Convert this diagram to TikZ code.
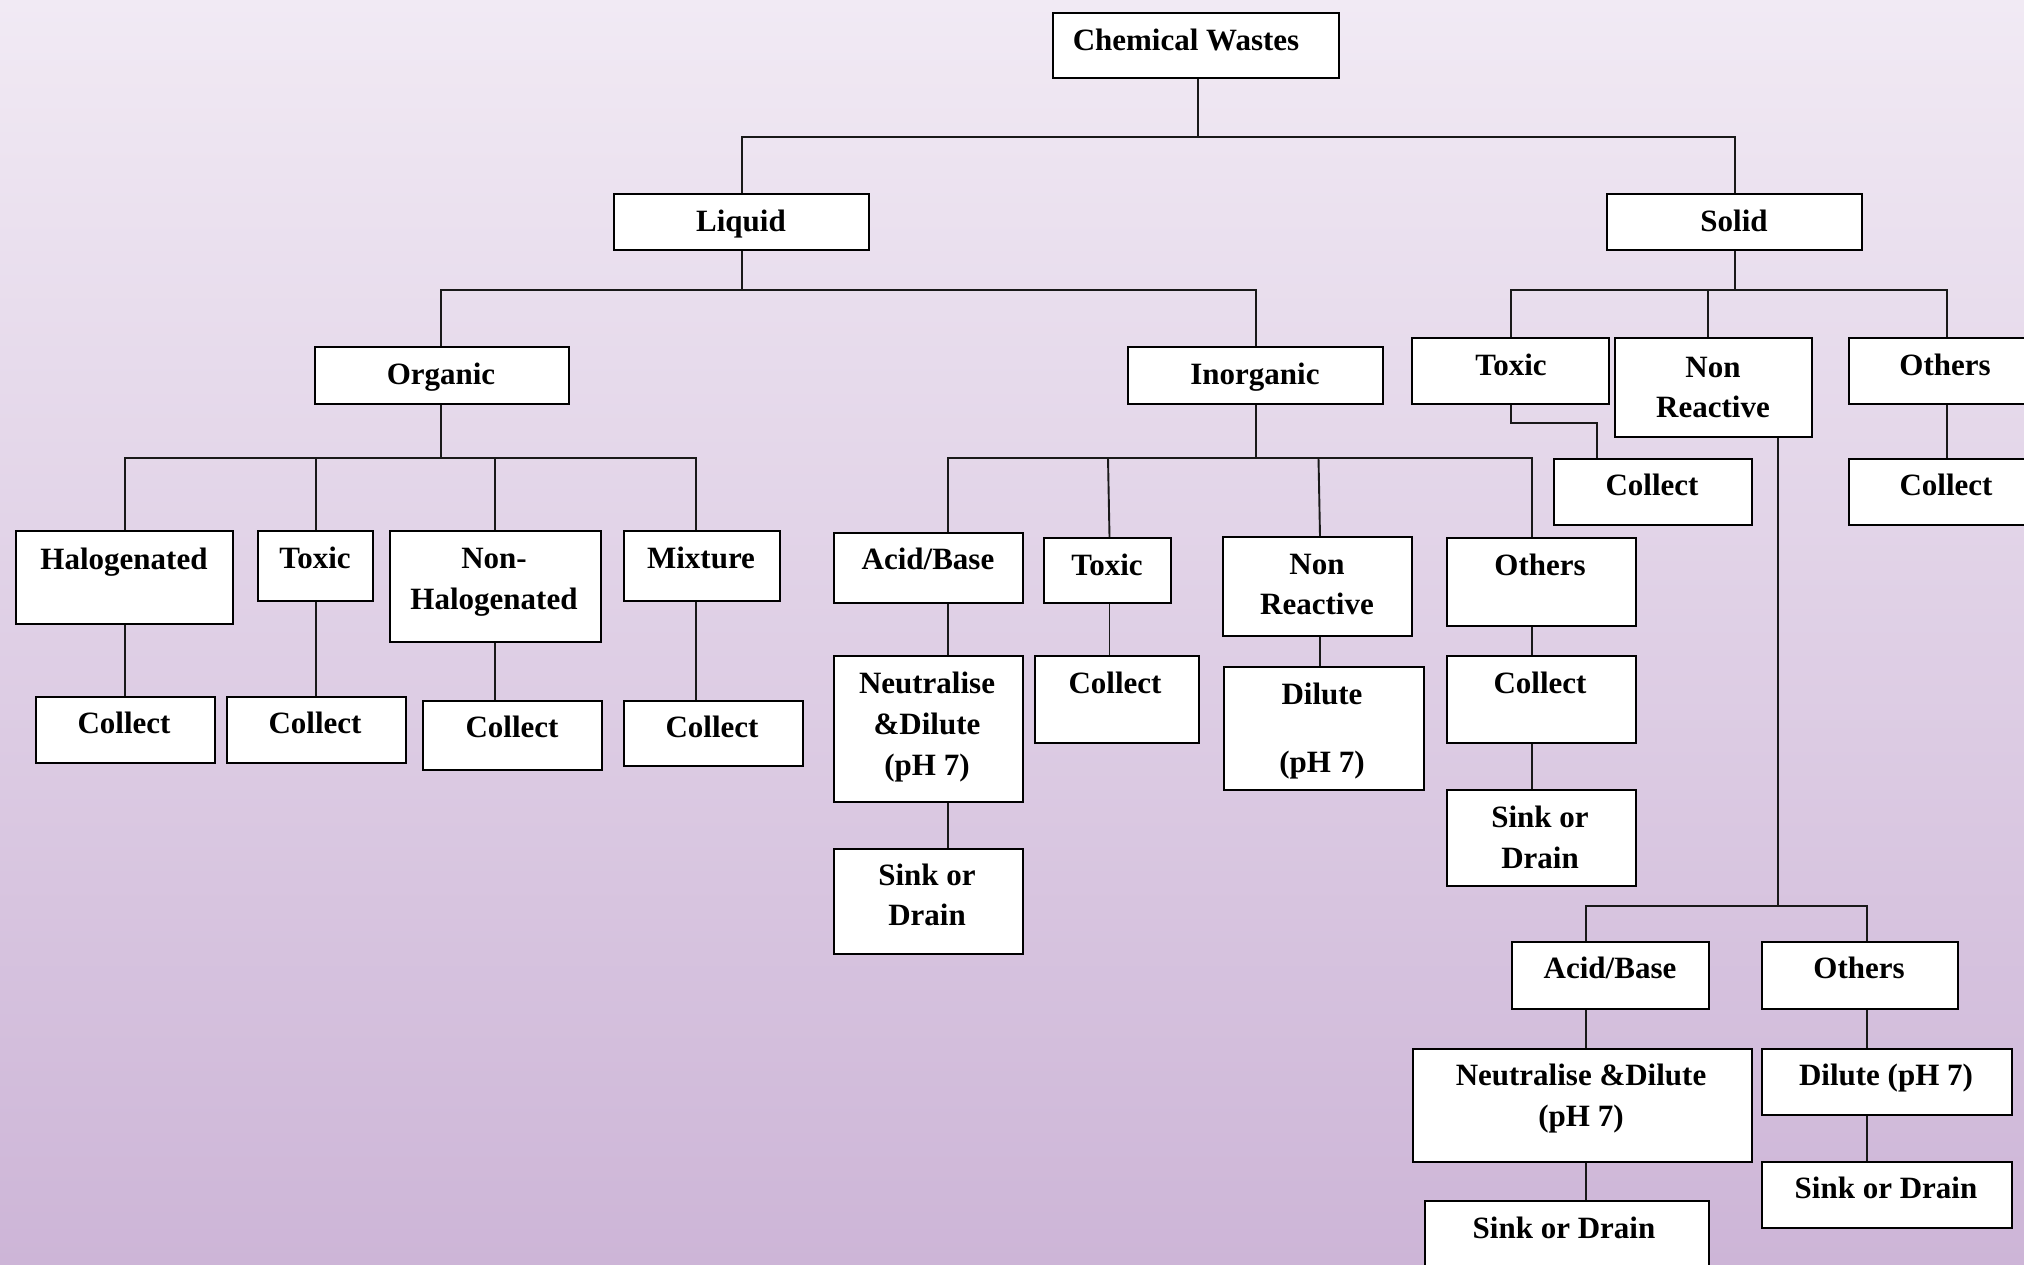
\documentclass[tikz,border=0pt]{standalone}
\usepackage{fontspec}
\setmainfont{Liberation Serif}
\definecolor{bgtop}{RGB}{241,234,244}
\definecolor{bgbot}{RGB}{205,181,215}
\definecolor{linec}{RGB}{25,25,25}
\tikzset{
  wbox/.style={draw=black, line width=2.2pt, fill=white, inner sep=0pt, rectangle},
  txt/.style={anchor=base, inner sep=0pt, font=\bfseries\fontsize{31}{40}\selectfont, text=black},
  conn/.style={draw=linec, line width=1.9pt}
}
\newcommand\bx[5]{\node[wbox, anchor=north west, minimum width={(#4-#2)*1pt}, minimum height={(#5-#3)*1pt}] (#1) at (#2,#3) {};}
\newcommand\tx[4]{\node[txt] (#1) at (#2,#3+10.5) {#4};}
\begin{document}
\begin{tikzpicture}[x=1pt,y=-1pt]
\useasboundingbox (0,0) rectangle (2024,1264);
\clip (0,0) rectangle (2024,1264);
\shade[top color=bgtop, bottom color=bgbot] (0,0) rectangle (2024,1264);

% ---------- boxes ----------
\bx{cw}{1052}{12}{1338}{77}
\bx{liq}{613}{193}{868}{249}
\bx{sol}{1606}{193}{1861}{249}
\bx{org}{314}{346}{568}{403}
\bx{inorg}{1127}{346}{1382}{403}
\bx{stox}{1411}{337}{1608}{403}
\bx{snr}{1614}{337}{1811}{436}
\bx{soth}{1848}{337}{2042}{403}
\bx{stoxc}{1553}{458}{1751}{524}
\bx{sothc}{1848}{458}{2042}{524}
\bx{hal}{15}{530}{232}{623}
\bx{otox}{257}{530}{372}{600}
\bx{nhal}{389}{530}{600}{641}
\bx{mix}{623}{530}{779}{600}
\bx{hc}{35}{696}{214}{762}
\bx{otc}{226}{696}{405}{762}
\bx{nhc}{422}{700}{601}{769}
\bx{mixc}{623}{700}{802}{765}
\bx{iab}{833}{532}{1022}{602}
\bx{neut}{833}{655}{1022}{801}
\bx{isink}{833}{848}{1022}{953}
\bx{itox}{1043}{537}{1170}{602}
\bx{itoxc}{1034}{655}{1198}{742}
\bx{inr}{1222}{536}{1411}{635}
\bx{dil}{1223}{666}{1423}{789}
\bx{ioth}{1446}{537}{1635}{625}
\bx{iothc}{1446}{655}{1635}{742}
\bx{iothsink}{1446}{789}{1635}{885}
\bx{sab}{1511}{941}{1708}{1008}
\bx{snoth}{1761}{941}{1957}{1008}
\bx{sneut}{1412}{1048}{1751}{1161}
\bx{sdil}{1761}{1048}{2011}{1114}
\bx{ssink}{1424}{1200}{1708}{1290}
\bx{sdsink}{1761}{1161}{2011}{1227}

% ---------- connectors ----------
\path[conn] (cw.south -| 1198,0) -- (1198,0 |- 0,137);
\path[conn] (742,0 |- liq.north) -- (742,137) -- (1735,137) -- (1735,0 |- sol.north);
% liquid
\path[conn] (742,0 |- liq.south) -- (742,290);
\path[conn] (441,0 |- org.north) -- (441,290) -- (1256,290) -- (1256,0 |- inorg.north);
% organic
\path[conn] (441,0 |- org.south) -- (441,458);
\path[conn] (125,0 |- hal.north) -- (125,458) -- (696,458) -- (696,0 |- mix.north);
\path[conn] (316,458) -- (316,0 |- otox.north);
\path[conn] (495,458) -- (495,0 |- nhal.north);
\path[conn] (125,0 |- hal.south) -- (125,0 |- hc.north);
\path[conn] (316,0 |- otox.south) -- (316,0 |- otc.north);
\path[conn] (495,0 |- nhal.south) -- (495,0 |- nhc.north);
\path[conn] (696,0 |- mix.south) -- (696,0 |- mixc.north);
% inorganic
\path[conn] (1256,0 |- inorg.south) -- (1256,458);
\path[conn] (948,0 |- iab.north) -- (948,458) -- (1532,458) -- (1532,0 |- ioth.north);
\path[conn] (1108,458) -- (1109.5,0 |- itox.north);
\path[conn] (1318.5,458) -- (1320,0 |- inr.north);
\path[conn] (948,0 |- iab.south) -- (948,0 |- neut.north);
\path[conn] (948,0 |- neut.south) -- (948,0 |- isink.north);
\path[conn] (1109.5,0 |- itox.south) -- (1109.5,0 |- itoxc.north);
\path[conn] (1320,0 |- inr.south) -- (1320,0 |- dil.north);
\path[conn] (1532,0 |- ioth.south) -- (1532,0 |- iothc.north);
\path[conn] (1532,0 |- iothc.south) -- (1532,0 |- iothsink.north);
% solid
\path[conn] (1735,0 |- sol.south) -- (1735,290);
\path[conn] (1511,0 |- stox.north) -- (1511,290) -- (1947,290) -- (1947,0 |- soth.north);
\path[conn] (1708,290) -- (1708,0 |- snr.north);
\path[conn] (1511,0 |- stox.south) -- (1511,423) -- (1597,423) -- (1597,0 |- stoxc.north);
\path[conn] (1947,0 |- soth.south) -- (1947,0 |- sothc.north);
\path[conn] (1778,0 |- snr.south) -- (1778,906);
\path[conn] (1586,0 |- sab.north) -- (1586,906) -- (1867,906) -- (1867,0 |- snoth.north);
\path[conn] (1586,0 |- sab.south) -- (1586,0 |- sneut.north);
\path[conn] (1586,0 |- sneut.south) -- (1586,0 |- ssink.north);
\path[conn] (1867,0 |- snoth.south) -- (1867,0 |- sdil.north);
\path[conn] (1867,0 |- sdil.south) -- (1867,0 |- sdsink.north);

% ---------- texts ----------
\tx{tcw}{1186}{40}{Chemical Wastes}
\tx{tliq}{741}{221}{Liquid}
\tx{tsol}{1734}{221}{Solid}
\tx{torg}{441}{374}{Organic}
\tx{tinorg}{1255}{374}{Inorganic}
\tx{tstox}{1511}{365}{Toxic}
\tx{tsnra}{1713}{367}{Non}
\tx{tsnrb}{1713}{407}{Reactive}
\tx{tsoth}{1945}{365}{Others}
\tx{tstoxc}{1652}{485}{Collect}
\tx{tsothc}{1946}{485}{Collect}
\tx{thal}{124}{559}{Halogenated}
\tx{totox}{315}{558}{Toxic}
\tx{tnhala}{494}{558}{Non-}
\tx{tnhalb}{494}{599}{Halogenated}
\tx{tmix}{701}{558}{Mixture}
\tx{thc}{124}{723}{Collect}
\tx{totc}{315}{723}{Collect}
\tx{tnhc}{512}{727}{Collect}
\tx{tmixc}{712}{727}{Collect}
\tx{tiab}{928}{559}{Acid/Base}
\tx{tneuta}{927}{683}{Neutralise}
\tx{tneutb}{927}{724}{\&Dilute}
\tx{tneutc}{927}{765}{(pH 7)}
\tx{tisinka}{927}{875}{Sink or}
\tx{tisinkb}{927}{915}{Drain}
\tx{titox}{1107}{565}{Toxic}
\tx{titoxc}{1115}{683}{Collect}
\tx{tinra}{1317}{564}{Non}
\tx{tinrb}{1317}{604}{Reactive}
\tx{tdila}{1322}{694}{Dilute}
\tx{tdilb}{1322}{762}{(pH 7)}
\tx{tioth}{1540}{565}{Others}
\tx{tiothc}{1540}{683}{Collect}
\tx{tiothsa}{1540}{817}{Sink or}
\tx{tiothsb}{1540}{858}{Drain}
\tx{tsab}{1610}{968}{Acid/Base}
\tx{tsnoth}{1859}{968}{Others}
\tx{tsneuta}{1581}{1075}{Neutralise \&Dilute}
\tx{tsneutb}{1581}{1116}{(pH 7)}
\tx{tsdil}{1886}{1075}{Dilute (pH 7)}
\tx{tsdsink}{1886}{1188}{Sink or Drain}
\tx{tssink}{1564}{1228}{Sink or Drain}
\end{tikzpicture}
\end{document}
